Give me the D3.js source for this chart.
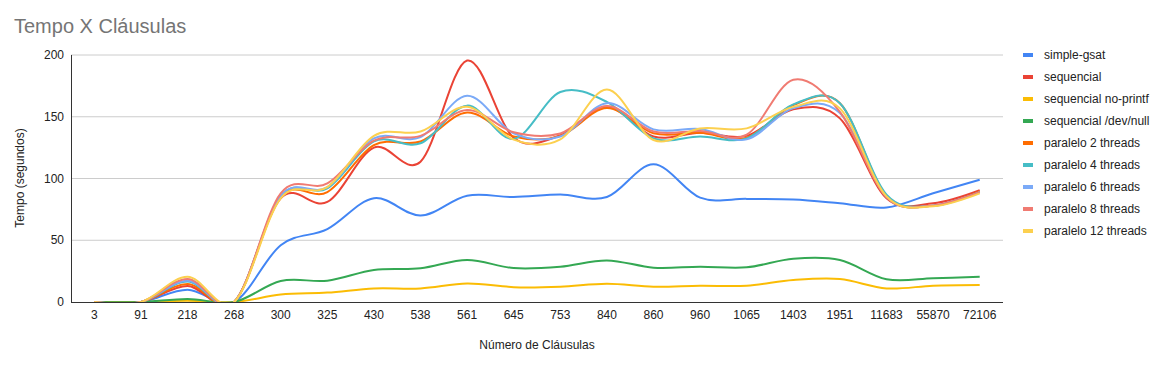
<!DOCTYPE html>
<html><head><meta charset="utf-8">
<script src="https://cdn.jsdelivr.net/npm/d3@7"></script>
<style>
body{margin:0;background:#fff;}
text{font-family:"Liberation Sans",Arial,sans-serif;}
</style></head>
<body><svg id="c" width="1162" height="367"></svg>
<script>
const categories = ["3","91","218","268","300","325","430","538","561","645","753","840","860","960","1065","1403","1951","11683","55870","72106"];
const seriesNames = ["simple-gsat","sequencial","sequencial no-printf","sequencial /dev/null","paralelo 2 threads","paralelo 4 threads","paralelo 6 threads","paralelo 8 threads","paralelo 12 threads"];
const colors = ["#4285f4","#ea4335","#fbbc04","#34a853","#ff6d01","#46bdc6","#7baaf7","#f07b72","#fcd04f"];
const simpleGsat   = [0,0,10,0,46,59,84,70,86,85,87,85,111.5,84.5,83.5,83,80,76.5,88,99];
const sequencial   = [0,0,13,0,84,81,125,113.6,195.5,133,135,158,134,137,134.5,156,148.7,84,80,90.5];
const seqNoPrintf  = [0,0,1,0,6,7.6,11,11,15,12,12.4,14.8,12.4,13.2,13.2,17.8,18.6,11,13.2,13.8];
const seqDevNull   = [0,0,2.5,0,17,17.3,26,27.3,34,27.5,28.6,33.7,27.8,28.6,28.1,35,34,18.4,19.2,20.5];
const par2         = [0,0,14.6,0,85,89,127,130,153.5,134,134.5,157,136.6,137,133,159.5,161,86,78,89.5];
const par4         = [0,0,16.5,0,86,92,130,128.5,159,132,170,162,132.5,134,132.5,160,161,87,78,89];
const par6         = [0,0,17.3,0,86,93,132.5,133.5,167,136.5,134,161,139.8,140,131.7,157,153,85,78,89];
const par8         = [0,0,18.6,0,88,96,130.6,134.5,155.5,137.5,136.5,158.7,138,138.5,135.5,180,154,85,78,89];
const par12        = [0,0,20.5,0,84,93,134.5,138,158,131.5,131.7,172,131.2,140.5,140.6,158,156.8,85.5,77.5,88];
const yTicks = [0,50,100,150,200];

const allSeries = [simpleGsat,sequencial,seqNoPrintf,seqDevNull,par2,par4,par6,par8,par12];

const svg = d3.select("#c");
const L = 71, R = 1003, T = 55, B = 302;
const x = d3.scalePoint().domain(categories).range([L,R]).padding(0.5);
const y = d3.scaleLinear().domain([0,200]).range([B,T]);

// title
svg.append("text").attr("x",14).attr("y",33).attr("font-size",20).attr("fill","#757575").text("Tempo X Cláusulas");

// gridlines
svg.append("g").selectAll("line").data(yTicks.filter(d=>d>0)).join("line")
  .attr("x1",L).attr("x2",R).attr("y1",d=>y(d)).attr("y2",d=>y(d))
  .attr("stroke","#cccccc").attr("stroke-width",1);

// y axis labels
svg.append("g").selectAll("text").data(yTicks).join("text")
  .attr("x",64).attr("y",d=>y(d)+4).attr("text-anchor","end").attr("font-size",12).attr("fill","#222")
  .text(d=>d);

// x axis labels
svg.append("g").selectAll("text").data(categories).join("text")
  .attr("x",d=>x(d)).attr("y",319).attr("text-anchor","middle").attr("font-size",12).attr("fill","#222")
  .text(d=>d);

// axis titles
svg.append("text").attr("transform","translate(24,178) rotate(-90)").attr("text-anchor","middle")
  .attr("font-size",12).attr("fill","#222").text("Tempo (segundos)");
svg.append("text").attr("x",537).attr("y",349).attr("text-anchor","middle")
  .attr("font-size",12).attr("fill","#222").text("Número de Cláusulas");

// clip
svg.append("defs").append("clipPath").attr("id","clip").append("rect")
  .attr("x",L).attr("y",T-30).attr("width",R-L).attr("height",B-T+30);

const line = d3.line().x((d,i)=>x(categories[i])).y(d=>y(d)).curve(d3.curveCatmullRom.alpha(0));
svg.append("g").attr("clip-path","url(#clip)").selectAll("path").data(allSeries).join("path")
  .attr("d",d=>line(d)).attr("fill","none").attr("stroke",(d,i)=>colors[i]).attr("stroke-width",2);

// axes lines
svg.append("line").attr("x1",L).attr("x2",R).attr("y1",B+0.5).attr("y2",B+0.5).attr("stroke","#333").attr("stroke-width",1);
svg.append("line").attr("x1",L+0.5).attr("x2",L+0.5).attr("y1",T).attr("y2",B).attr("stroke","#333").attr("stroke-width",1);

// legend
const lg = svg.append("g").selectAll("g").data(seriesNames).join("g")
  .attr("transform",(d,i)=>`translate(1023,${55+i*22.0})`);
lg.append("rect").attr("x",0).attr("y",-2).attr("width",10).attr("height",4).attr("fill",(d,i)=>colors[i]);
lg.append("text").attr("x",21).attr("y",4).attr("font-size",12).attr("fill","#222").text(d=>d);
</script></body></html>
